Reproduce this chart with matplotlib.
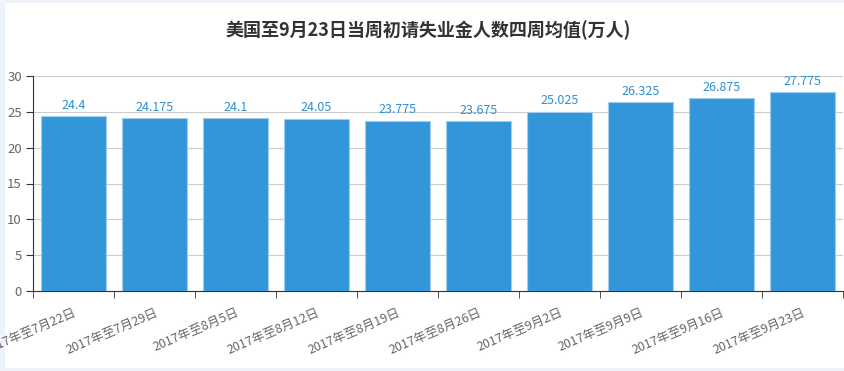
import matplotlib
matplotlib.use("Agg")
import matplotlib.pyplot as plt
from matplotlib.patches import Rectangle

plt.rcParams['font.family'] = ['Noto Sans CJK SC', 'DejaVu Sans']

categories = ["2017年至7月22日", "2017年至7月29日", "2017年至8月5日", "2017年至8月12日",
              "2017年至8月19日", "2017年至8月26日", "2017年至9月2日", "2017年至9月9日",
              "2017年至9月16日", "2017年至9月23日"]
values = [24.4, 24.175, 24.1, 24.05, 23.775, 23.675, 25.025, 26.325, 26.875, 27.775]
value_labels = ["24.4", "24.175", "24.1", "24.05", "23.775", "23.675", "25.025", "26.325", "26.875", "27.775"]
title = "美国至9月23日当周初请失业金人数四周均值(万人)"

W, H = 844, 371
fig = plt.figure(figsize=(W / 100, H / 100), dpi=100)
fig.patch.set_facecolor('#eef3fa')
fig.patches.append(Rectangle((5 / W, 0.008), 1 - 5 / W, 1 - 0.008 - 3 / H,
                             transform=fig.transFigure, facecolor='white',
                             edgecolor='none', zorder=-10))

ax = fig.add_axes([33 / W, 1 - 291 / H, (843 - 33) / W, (291 - 76) / H])
ax.set_facecolor('white')
x = list(range(len(categories)))
bars = ax.bar(x, values, width=0.8, color='#3396db', edgecolor='#9fcdee', linewidth=0.8, zorder=3)
for xi, v, lab in zip(x, values, value_labels):
    ax.annotate(lab, (xi, v), xytext=(0, 3), textcoords='offset points',
                ha='center', va='bottom', color='#2f8fd6', fontsize=9, zorder=4)

ax.set_xlim(-0.5, len(categories) - 0.5)
ax.set_ylim(0, 30)
ax.set_yticks([0, 5, 10, 15, 20, 25, 30])
ax.yaxis.grid(True, color='#cccccc', linewidth=0.8, zorder=0)
ax.set_axisbelow(True)

ax.set_xticks(x)
ax.set_xticklabels(categories, rotation=23, ha='right', rotation_mode='anchor',
                   color='#666666', fontsize=9)
ax.set_xticks([i - 0.5 for i in range(len(categories) + 1)], minor=True)
ax.tick_params(axis='x', which='major', length=0, pad=11)
ax.tick_params(axis='x', which='minor', length=5, color='#333333', direction='out')
ax.tick_params(axis='y', length=5, color='#333333', labelcolor='#666666', labelsize=9.5, pad=3)

for s in ['top', 'right']:
    ax.spines[s].set_visible(False)
ax.spines['left'].set_color('#333333')
ax.spines['bottom'].set_color('#333333')

fig.text(428 / W, 1 - 30 / H, title, ha='center', va='center', fontsize=13,
         fontweight='bold', color='#333333')

fig.savefig('out.png', dpi=100, facecolor=fig.get_facecolor())
